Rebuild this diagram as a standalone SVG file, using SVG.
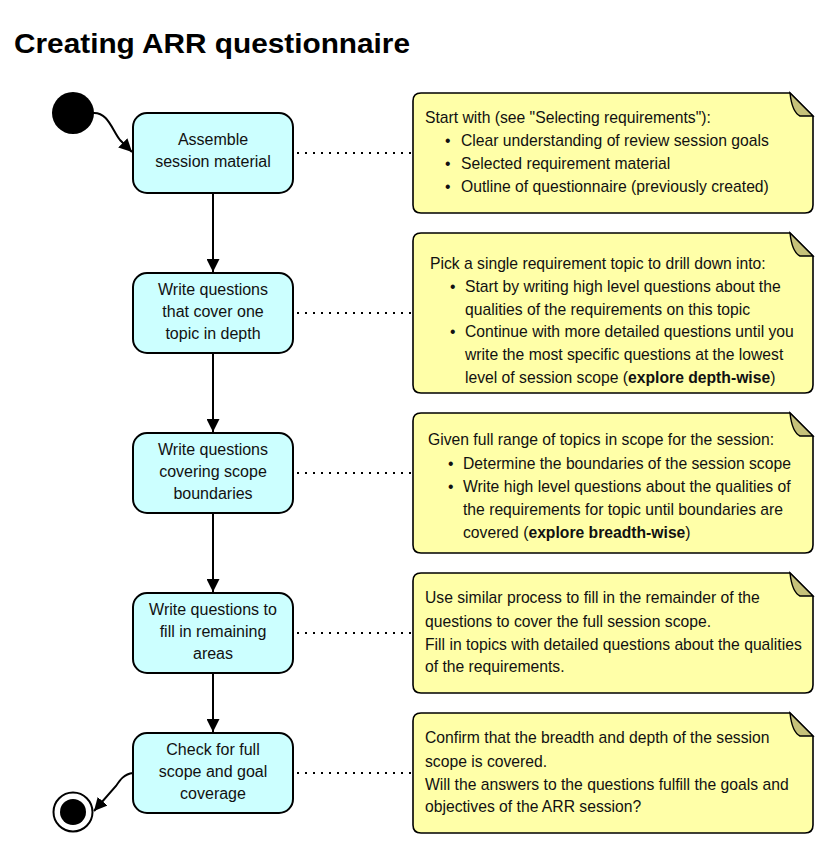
<svg xmlns="http://www.w3.org/2000/svg" width="831" height="844" viewBox="0 0 831 844">
<style>
.node rect{fill:#ccffff;stroke:#000;stroke-width:2}
.ntext{font-family:"Liberation Sans",Arial,sans-serif;font-size:16px;fill:#111;text-anchor:middle}
.note path.body{fill:#ffffa8;stroke:#000;stroke-width:1.6}
.note path.fold{fill:#c6c27a;stroke:#000;stroke-width:1.4}
.notetext{font-family:"Liberation Sans",Arial,sans-serif;font-size:15.7px;fill:#111}
.b{font-weight:bold}
.flow{stroke:#000;stroke-width:2;fill:none}
.dot{stroke:#000;stroke-width:2;stroke-dasharray:2 6;fill:none}
.title{font-family:"Liberation Sans",Arial,sans-serif;font-size:28px;font-weight:bold;fill:#000}
</style>
<defs>
<marker id="ah" viewBox="0 0 12 12" refX="12" refY="6" markerWidth="13" markerHeight="13" markerUnits="userSpaceOnUse" orient="auto">
<path d="M0,0 L12,6 L0,12 Z" fill="#000"/>
</marker>
</defs>
<rect width="831" height="844" fill="#fff"/>
<text class="title" x="14" y="53" textLength="396" lengthAdjust="spacingAndGlyphs">Creating ARR questionnaire</text>

<g id="connectors">
<path class="flow" d="M93,113 C108,112 112,130 120,140 L132,152" marker-end="url(#ah)"/>
<path class="flow" d="M213,193 L213,272" marker-end="url(#ah)"/>
<path class="flow" d="M213,353 L213,432" marker-end="url(#ah)"/>
<path class="flow" d="M213,513 L213,592" marker-end="url(#ah)"/>
<path class="flow" d="M213,673 L213,732" marker-end="url(#ah)"/>
<path class="flow" d="M133,773 C124,774 120,780 116,786 L94,811" marker-end="url(#ah)"/>
<path class="dot" d="M297,153 L411,153"/>
<path class="dot" d="M297,313 L411,313"/>
<path class="dot" d="M297,473 L411,473"/>
<path class="dot" d="M297,633 L411,633"/>
<path class="dot" d="M297,773 L411,773"/>
</g>

<g id="start"><circle cx="73" cy="113" r="21" fill="#000"/></g>
<g id="end"><circle cx="73" cy="812" r="19.5" fill="#fff" stroke="#000" stroke-width="2"/><circle cx="73" cy="812" r="13" fill="#000"/></g>

<g id="n1" class="node"><rect x="133" y="113" width="160" height="80" rx="14"/>
<text class="ntext"><tspan x="213" y="145">Assemble</tspan><tspan x="213" y="167">session material</tspan></text></g>
<g id="n2" class="node"><rect x="133" y="273" width="160" height="80" rx="14"/>
<text class="ntext"><tspan x="213" y="295">Write questions</tspan><tspan x="213" y="317">that cover one</tspan><tspan x="213" y="339">topic in depth</tspan></text></g>
<g id="n3" class="node"><rect x="133" y="433" width="160" height="80" rx="14"/>
<text class="ntext"><tspan x="213" y="455">Write questions</tspan><tspan x="213" y="477">covering scope</tspan><tspan x="213" y="499">boundaries</tspan></text></g>
<g id="n4" class="node"><rect x="133" y="593" width="160" height="80" rx="14"/>
<text class="ntext"><tspan x="213" y="615">Write questions to</tspan><tspan x="213" y="637">fill in remaining</tspan><tspan x="213" y="659">areas</tspan></text></g>
<g id="n5" class="node"><rect x="133" y="733" width="160" height="80" rx="14"/>
<text class="ntext"><tspan x="213" y="755">Check for full</tspan><tspan x="213" y="777">scope and goal</tspan><tspan x="213" y="799">coverage</tspan></text></g>

<g id="note1" class="note">
<path class="body" d="M421,93 L790,93 L813,116 L813,205 Q813,213 805,213 L421,213 Q413,213 413,205 L413,101 Q413,93 421,93 Z"/>
<path class="fold" d="M790,93 L813,116 L800,116 Q792,112 790,93 Z"/>
<text class="notetext">
<tspan x="425" y="123">Start with (see "Selecting requirements"):</tspan>
<tspan x="445" y="146">•</tspan><tspan x="461" y="146">Clear understanding of review session goals</tspan>
<tspan x="445" y="169">•</tspan><tspan x="461" y="169">Selected requirement material</tspan>
<tspan x="445" y="192">•</tspan><tspan x="461" y="192">Outline of questionnaire (previously created)</tspan>
</text></g>

<g id="note2" class="note">
<path class="body" d="M421,233 L790,233 L813,256 L813,385 Q813,393 805,393 L421,393 Q413,393 413,385 L413,241 Q413,233 421,233 Z"/>
<path class="fold" d="M790,233 L813,256 L800,256 Q792,252 790,233 Z"/>
<text class="notetext">
<tspan x="430" y="269">Pick a single requirement topic to drill down into:</tspan>
<tspan x="450" y="292">•</tspan><tspan x="465" y="292">Start by writing high level questions about the</tspan>
<tspan x="465" y="315">qualities of the requirements on this topic</tspan>
<tspan x="450" y="337">•</tspan><tspan x="465" y="337">Continue with more detailed questions until you</tspan>
<tspan x="465" y="360">write the most specific questions at the lowest</tspan>
<tspan x="465" y="383">level of session scope (<tspan class="b">explore depth-wise</tspan>)</tspan>
</text></g>

<g id="note3" class="note">
<path class="body" d="M421,413 L790,413 L813,436 L813,545 Q813,553 805,553 L421,553 Q413,553 413,545 L413,421 Q413,413 421,413 Z"/>
<path class="fold" d="M790,413 L813,436 L800,436 Q792,432 790,413 Z"/>
<text class="notetext">
<tspan x="428" y="445">Given full range of topics in scope for the session:</tspan>
<tspan x="448" y="469">•</tspan><tspan x="463" y="469">Determine the boundaries of the session scope</tspan>
<tspan x="448" y="492">•</tspan><tspan x="463" y="492">Write high level questions about the qualities of</tspan>
<tspan x="463" y="515">the requirements for topic until boundaries are</tspan>
<tspan x="463" y="538">covered (<tspan class="b">explore breadth-wise</tspan>)</tspan>
</text></g>

<g id="note4" class="note">
<path class="body" d="M421,573 L790,573 L813,596 L813,685 Q813,693 805,693 L421,693 Q413,693 413,685 L413,581 Q413,573 421,573 Z"/>
<path class="fold" d="M790,573 L813,596 L800,596 Q792,592 790,573 Z"/>
<text class="notetext">
<tspan x="425" y="603">Use similar process to fill in the remainder of the</tspan>
<tspan x="425" y="627">questions to cover the full session scope.</tspan>
<tspan x="425" y="650">Fill in topics with detailed questions about the qualities</tspan>
<tspan x="425" y="672">of the requirements.</tspan>
</text></g>

<g id="note5" class="note">
<path class="body" d="M421,713 L790,713 L813,736 L813,825 Q813,833 805,833 L421,833 Q413,833 413,825 L413,721 Q413,713 421,713 Z"/>
<path class="fold" d="M790,713 L813,736 L800,736 Q792,732 790,713 Z"/>
<text class="notetext">
<tspan x="425" y="743">Confirm that the breadth and depth of the session</tspan>
<tspan x="425" y="767">scope is covered.</tspan>
<tspan x="425" y="790">Will the answers to the questions fulfill the goals and</tspan>
<tspan x="425" y="812">objectives of the ARR session?</tspan>
</text></g>
</svg>
